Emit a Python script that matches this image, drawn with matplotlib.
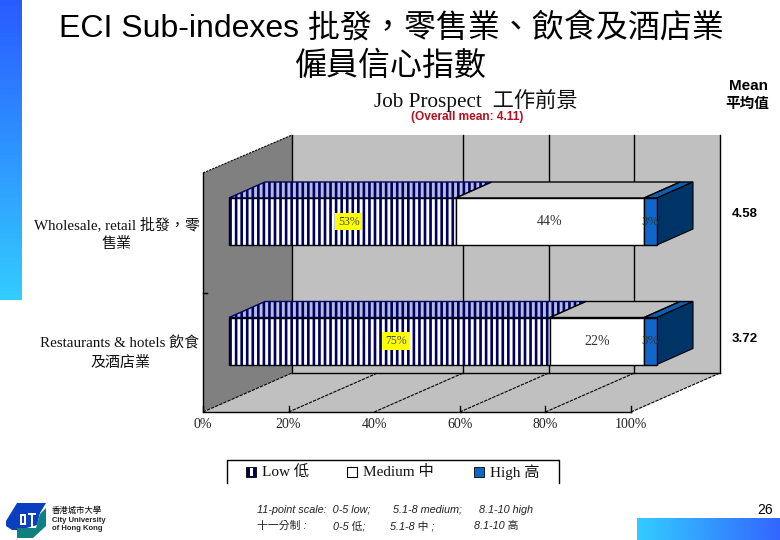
import matplotlib
matplotlib.use('Agg')
import matplotlib.pyplot as plt
from matplotlib.patches import Polygon, Rectangle
import numpy as np

# data
categories = ['Wholesale, retail 批發，零\n售業', 'Restaurants & hotels 飲食\n及酒店業']
low = [53, 75]
medium = [44, 22]
high = [3, 3]
means = ['4.58', '3.72']
pct_ticks = [0, 20, 40, 60, 80, 100]
legend_labels = ['Low 低', 'Medium 中', 'High 高']

SANS = ['Liberation Sans', 'Noto Sans CJK TC']
SERIF = ['Liberation Serif', 'Noto Sans CJK TC']
NAVY = '#000060'
GREY = '#c0c0c0'
plt.rcParams['hatch.linewidth'] = 1.9

fig = plt.figure(figsize=(7.8, 5.4), dpi=100)

# background axes in pixel coordinates for the slide and the chart box
bg = fig.add_axes([0, 0, 1, 1], zorder=0)
bg.set_xlim(0, 780)
bg.set_ylim(540, 0)
bg.axis('off')

# slide strips
grad = np.linspace(0, 1, 64)
left_strip = np.array([[0.16, 0.36, 1.0]]) + grad[:, None] * np.array([[0.04, 0.44, 0.0]])
bg.imshow(left_strip[:, None, :], extent=[0, 22, 300, 0], aspect='auto', zorder=1)
bottom_strip = np.array([[0.2, 0.8, 1.0]]) + grad[:, None] * np.array([[0.0, -0.4, 0.0]])
bg.imshow(bottom_strip[None, :, :], extent=[637, 780, 540, 518], aspect='auto', zorder=1)
bg.set_xlim(0, 780)
bg.set_ylim(540, 0)

# walls and floor
bg.add_patch(Rectangle((292, 135), 428, 238, fc=GREY, ec='none', zorder=2))
bg.add_patch(Polygon([(203, 173), (292, 135), (292, 373), (203, 412)], fc='#808080', ec='none', zorder=2))
bg.add_patch(Polygon([(203, 412), (292, 373), (720, 373), (631, 412)], fc=GREY, ec='none', zorder=2))
bg.plot([203, 292], [173, 135], color='k', lw=0.8, ls=(0, (2, 1)), zorder=3)
bg.plot([203, 203, 631], [173, 412, 412], color='k', lw=1, zorder=3)
bg.plot([292, 720], [373, 373], color='k', lw=1, zorder=3)
bg.plot([203, 207], [293, 293], color='k', lw=1, zorder=3)

# gridlines, the 20% one is missing on the back wall of the reference
for p in pct_ticks:
    x_front = 203 + p * 4.28
    x_back = 292 + p * 4.28
    bg.plot([x_front, x_back], [412, 373], color='k', lw=0.8, ls=(0, (3, 1)), zorder=3)
    if p != 20:
        bg.plot([x_back, x_back], [135, 373], color='k', lw=1, zorder=3)
    if p != 40:
        bg.plot([x_front, x_front], [412, 406], color='k', lw=1, zorder=3)
    bg.text(x_front, 424, '%d%%' % p, family=SERIF, fontsize=10, ha='center', va='center', color='#222222')

# chart axes, 0-100 runs from px 229 to 657 and the categories sit at px 221 and 341
ax = fig.add_axes([0, 0, 1, 1], zorder=1)
ax.patch.set_alpha(0)
ax.axis('off')
x_per_px = 100 / 428
y_per_px = 1 / 119.5
ax.set_xlim(-229 * x_per_px, (780 - 229) * x_per_px)
ax.set_ylim((540 - 221.5) * y_per_px, -221.5 * y_per_px)

bar_h = 47 * y_per_px
dx = 36 * x_per_px
dy = -16 * y_per_px
y_pos = np.arange(len(categories))


def top_face(start, width, y, **kw):
    # parallelogram on top of a bar segment
    yt = y - bar_h / 2
    pts = [(start, yt), (start + width, yt), (start + width + dx, yt + dy), (start + dx, yt + dy)]
    ax.add_patch(Polygon(pts, **kw))


low = np.array(low)
medium = np.array(medium)
high = np.array(high)

for i, y in enumerate(y_pos):
    top_face(0, low[i], y, fc='#b4bbde', ec=NAVY, hatch='|||', lw=1, zorder=2)
    top_face(low[i], medium[i], y, fc=GREY, ec='k', lw=1, zorder=2)
    top_face(low[i] + medium[i], high[i], y, fc='#0f5fb0', ec='k', lw=1, zorder=2)
    # side of the last segment
    xr = low[i] + medium[i] + high[i]
    yt = y - bar_h / 2
    yb = y + bar_h / 2
    ax.add_patch(Polygon([(xr, yt), (xr + dx, yt + dy), (xr + dx, yb + dy), (xr, yb)],
                         fc='#003366', ec='k', lw=0.8, zorder=2))

ax.barh(y_pos, low, bar_h, color='white', edgecolor=NAVY, hatch='|||', lw=0, zorder=3)
ax.barh(y_pos, low, bar_h, fill=False, edgecolor='k', lw=1, zorder=4)
ax.barh(y_pos, medium, bar_h, left=low, color='white', edgecolor='k', lw=1, zorder=4)
ax.barh(y_pos, high, bar_h, left=low + medium, color='#0f66c8', edgecolor='k', lw=1, zorder=4)

# data labels
cat_x = [117, 120]
for i, y in enumerate(y_pos):
    ax.text(low[i] / 2 + 1.5, y, '%d%%' % low[i], family=SERIF, fontsize=8.5, ha='center', va='center',
            color='#444444', zorder=6, bbox=dict(fc='#ffff00', ec='none', pad=2))
    ax.text(low[i] + medium[i] / 2, y, '%d%%' % medium[i], family=SERIF, fontsize=10, ha='center', va='center',
            color='#333333', zorder=6)
    ax.text(low[i] + medium[i] + high[i] / 2, y, '%d%%' % high[i], family=SERIF, fontsize=9.5, ha='center', va='center',
            color='#333333', zorder=6)
    bg.text(745, [214, 339][i], means[i], family=SANS, fontsize=9.5, weight='bold', ha='center', va='center')
    bg.text(cat_x[i], [234, 353][i], categories[i], family=SERIF, fontsize=10.8, ha='center', va='center',
            linespacing=1.45, color='#111111')

# titles
bg.text(391, 28, 'ECI Sub-indexes 批發，零售業、飲食及酒店業', family=SANS, fontsize=23, ha='center', va='center')
bg.text(391, 67, '僱員信心指數', family=SANS, fontsize=23, ha='center', va='center')
bg.text(476, 101, 'Job Prospect  工作前景', family=SERIF, fontsize=15.3, ha='center', va='center', color='#111111')
bg.text(467, 117, '(Overall mean: 4.11)', family=SANS, fontsize=8.6, weight='bold', ha='center', va='center', color='#b01020')
bg.text(748, 86, 'Mean', family=SANS, fontsize=11, weight='bold', ha='center', va='center')
bg.text(747, 104, '平均值', family=SANS, fontsize=10.5, weight='bold', ha='center', va='center')

# legend, the bottom border is cut off in the reference
bg.plot([227, 227, 559, 559], [483, 460, 460, 483], color='k', lw=1, zorder=3)
swatch_x = [246, 347, 474]
text_x = [262, 363, 490]
bg.add_patch(Rectangle((swatch_x[0], 467), 10, 10, fc=NAVY, ec='k', lw=0.6, zorder=3))
bg.add_patch(Rectangle((swatch_x[0] + 4, 468), 2.5, 8, fc='white', ec='none', zorder=4))
bg.add_patch(Rectangle((swatch_x[1], 467), 10, 10, fc='white', ec='k', lw=0.8, zorder=3))
bg.add_patch(Rectangle((swatch_x[2], 467), 10, 10, fc='#0f66c8', ec='k', lw=0.6, zorder=3))
for tx, lab in zip(text_x, legend_labels):
    bg.text(tx, 472, lab, family=SERIF, fontsize=11, ha='left', va='center', color='#111111')

# scale note
note_rows = [
    (510, [(257, '11-point scale:  0-5 low;'), (393, '5.1-8 medium;'), (479, '8.1-10 high')]),
    (526, [(257, '十一分制 :'), (333, '0-5 低;'), (390, '5.1-8 中 ;'), (474, '8.1-10 高')]),
]
for row_y, items in note_rows:
    for nx, s in items:
        bg.text(nx, row_y, s, family=SANS, fontsize=7.8, style='italic', ha='left', va='center', color='#222222')

bg.text(765, 510, '26', family=SANS, fontsize=10, ha='center', va='center')

# logo
bg.add_patch(Polygon([(6, 521), (17, 503), (46, 503), (40, 513), (37, 525), (20, 530), (12, 530), (6, 526)],
                     fc='#0a3fc0', ec='none', zorder=3))
bg.add_patch(Polygon([(17, 538), (17, 528), (36, 528), (40, 514), (46, 508), (46, 526), (33, 538)],
                     fc='#0f8080', ec='none', zorder=3))
bg.add_patch(Rectangle((20, 514), 6, 11, fc='white', ec='none', zorder=4))
bg.add_patch(Rectangle((22, 516), 2, 7, fc='#0a3fc0', ec='none', zorder=5))
bg.add_patch(Rectangle((28, 513), 8, 2, fc='white', ec='none', zorder=4))
bg.add_patch(Rectangle((31, 513), 2, 14, fc='white', ec='none', zorder=4))
bg.text(52, 511, '香港城市大學', family=SANS, fontsize=6, ha='left', va='center')
bg.text(52, 520, 'City University', family=SANS, fontsize=5.5, weight='bold', ha='left', va='center', color='#222222')
bg.text(52, 528, 'of Hong Kong', family=SANS, fontsize=5.5, weight='bold', ha='left', va='center', color='#222222')

fig.savefig('out.png', dpi=100)
